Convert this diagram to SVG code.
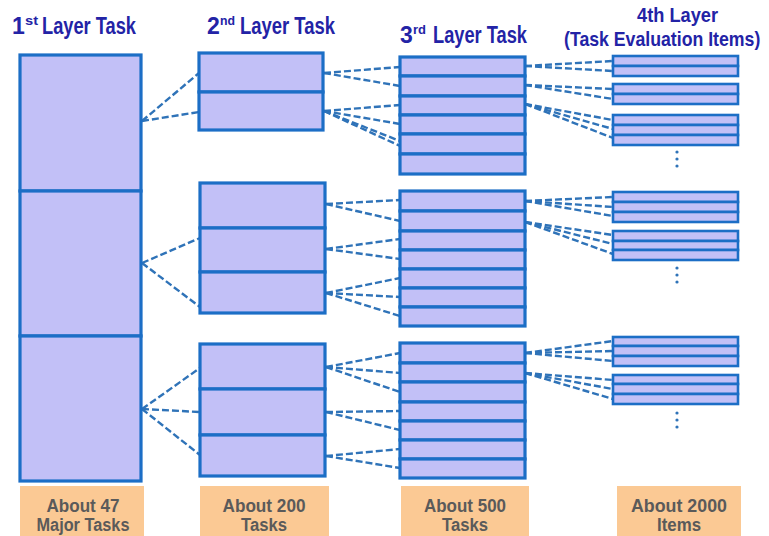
<svg xmlns="http://www.w3.org/2000/svg" width="769" height="536" viewBox="0 0 769 536">
<style>
.b{fill:#C2C0F7;stroke:#1C6EC6;stroke-width:3.2}
.s{fill:#C2C0F7;stroke:#1C6EC6;stroke-width:2.6}
.c line{stroke:#2F73B8;stroke-width:2.4;stroke-dasharray:7 3;fill:none}
.h{font-family:"Liberation Sans",Arial,sans-serif;font-weight:bold;fill:#2323A6}
.o{fill:#FBC994}
.t{font-family:"Liberation Sans",Arial,sans-serif;font-weight:bold;fill:#5A5A5A;font-size:18px;text-anchor:middle}
.d{fill:#2F73B8}
</style>
<rect width="769" height="536" fill="#ffffff"/>
<g id="headers">
<text class="h" x="12" y="34" font-size="23">1</text>
<text class="h" x="25" y="25" font-size="12" textLength="13" lengthAdjust="spacingAndGlyphs">st</text>
<text class="h" x="42" y="34" font-size="23" textLength="94" lengthAdjust="spacingAndGlyphs">Layer Task</text>
<text class="h" x="207" y="34" font-size="23">2</text>
<text class="h" x="220" y="25" font-size="12" textLength="15" lengthAdjust="spacingAndGlyphs">nd</text>
<text class="h" x="240" y="34" font-size="23" textLength="95" lengthAdjust="spacingAndGlyphs">Layer Task</text>
<text class="h" x="400" y="43" font-size="23">3</text>
<text class="h" x="413" y="34" font-size="12" textLength="13" lengthAdjust="spacingAndGlyphs">rd</text>
<text class="h" x="433" y="43" font-size="23" textLength="94" lengthAdjust="spacingAndGlyphs">Layer Task</text>
<text class="h" x="637" y="22" font-size="20" textLength="81" lengthAdjust="spacingAndGlyphs">4th Layer</text>
<text class="h" transform="translate(564,46) scale(0.885,1)" x="0" y="0" font-size="20">(Task Evaluation Items)</text>
</g>
<g id="connectors" class="c">
<line x1="142" y1="121" x2="199" y2="73"/>
<line x1="142" y1="121" x2="199" y2="112"/>
<line x1="142" y1="263" x2="200" y2="238"/>
<line x1="142" y1="263" x2="200" y2="307"/>
<line x1="142" y1="409" x2="200" y2="368"/>
<line x1="142" y1="409" x2="200" y2="412"/>
<line x1="142" y1="409" x2="200" y2="455"/>
<line x1="324" y1="73" x2="400" y2="67"/>
<line x1="324" y1="73" x2="400" y2="86"/>
<line x1="324" y1="111" x2="400" y2="105"/>
<line x1="324" y1="111" x2="400" y2="124"/>
<line x1="324" y1="111" x2="400" y2="141"/>
<line x1="324" y1="111" x2="400" y2="146"/>
<line x1="326" y1="204" x2="400" y2="200"/>
<line x1="326" y1="204" x2="400" y2="221"/>
<line x1="326" y1="249" x2="400" y2="239"/>
<line x1="326" y1="249" x2="400" y2="259"/>
<line x1="326" y1="293" x2="400" y2="278"/>
<line x1="326" y1="293" x2="400" y2="297"/>
<line x1="326" y1="293" x2="400" y2="316"/>
<line x1="326" y1="367" x2="400" y2="353"/>
<line x1="326" y1="367" x2="400" y2="373"/>
<line x1="326" y1="367" x2="400" y2="392"/>
<line x1="326" y1="412" x2="400" y2="411"/>
<line x1="326" y1="412" x2="400" y2="430"/>
<line x1="326" y1="456" x2="400" y2="449"/>
<line x1="326" y1="456" x2="400" y2="468"/>
<line x1="525" y1="66" x2="613" y2="61"/>
<line x1="525" y1="66" x2="613" y2="71"/>
<line x1="525" y1="85" x2="613" y2="89"/>
<line x1="525" y1="85" x2="613" y2="99"/>
<line x1="525" y1="104" x2="613" y2="120"/>
<line x1="525" y1="104" x2="613" y2="129"/>
<line x1="525" y1="104" x2="613" y2="138"/>
<line x1="525" y1="201" x2="613" y2="197"/>
<line x1="525" y1="201" x2="613" y2="207"/>
<line x1="525" y1="201" x2="613" y2="216"/>
<line x1="525" y1="222" x2="613" y2="235"/>
<line x1="525" y1="222" x2="613" y2="244"/>
<line x1="525" y1="222" x2="613" y2="254"/>
<line x1="525" y1="353" x2="613" y2="341"/>
<line x1="525" y1="353" x2="613" y2="351"/>
<line x1="525" y1="353" x2="613" y2="361"/>
<line x1="525" y1="373" x2="613" y2="380"/>
<line x1="525" y1="373" x2="613" y2="389"/>
<line x1="525" y1="373" x2="613" y2="399"/>
</g>
<g id="layer1">
<rect class="b" x="20" y="55" width="121" height="136"/>
<rect class="b" x="20" y="191" width="121" height="145"/>
<rect class="b" x="20" y="336" width="121" height="145"/>
</g>
<g id="layer2-g1">
<rect class="b" x="199" y="53" width="124" height="39"/>
<rect class="b" x="199" y="92" width="124" height="38"/>
</g>
<g id="layer2-g2">
<rect class="b" x="200" y="183" width="125" height="45"/>
<rect class="b" x="200" y="228" width="125" height="44"/>
<rect class="b" x="200" y="272" width="125" height="41"/>
</g>
<g id="layer2-g3">
<rect class="b" x="200" y="344" width="125" height="45"/>
<rect class="b" x="200" y="389" width="125" height="46"/>
<rect class="b" x="200" y="435" width="125" height="41"/>
</g>
<g id="layer3-g1">
<rect class="b" x="400" y="57" width="125" height="19"/>
<rect class="b" x="400" y="76" width="125" height="20"/>
<rect class="b" x="400" y="96" width="125" height="19"/>
<rect class="b" x="400" y="115" width="125" height="19"/>
<rect class="b" x="400" y="134" width="125" height="20"/>
<rect class="b" x="400" y="154" width="125" height="20"/>
</g>
<g id="layer3-g2">
<rect class="b" x="400" y="191" width="125" height="20"/>
<rect class="b" x="400" y="211" width="125" height="20"/>
<rect class="b" x="400" y="231" width="125" height="19"/>
<rect class="b" x="400" y="250" width="125" height="19"/>
<rect class="b" x="400" y="269" width="125" height="19"/>
<rect class="b" x="400" y="288" width="125" height="19"/>
<rect class="b" x="400" y="307" width="125" height="19"/>
</g>
<g id="layer3-g3">
<rect class="b" x="400" y="343" width="125" height="20"/>
<rect class="b" x="400" y="363" width="125" height="19"/>
<rect class="b" x="400" y="382" width="125" height="20"/>
<rect class="b" x="400" y="402" width="125" height="19"/>
<rect class="b" x="400" y="421" width="125" height="19"/>
<rect class="b" x="400" y="440" width="125" height="19"/>
<rect class="b" x="400" y="459" width="125" height="19"/>
</g>
<g id="layer4-g1">
<rect class="s" x="613" y="56" width="125" height="10"/>
<rect class="s" x="613" y="66" width="125" height="10"/>
<rect class="s" x="613" y="84" width="125" height="10"/>
<rect class="s" x="613" y="94" width="125" height="10"/>
<rect class="s" x="613" y="115" width="125" height="10"/>
<rect class="s" x="613" y="125" width="125" height="10"/>
<rect class="s" x="613" y="135" width="125" height="10"/>
<circle class="d" cx="677" cy="152" r="1.6"/>
<circle class="d" cx="677" cy="159" r="1.6"/>
<circle class="d" cx="677" cy="166" r="1.6"/>
</g>
<g id="layer4-g2">
<rect class="s" x="613" y="192" width="125" height="10"/>
<rect class="s" x="613" y="202" width="125" height="10"/>
<rect class="s" x="613" y="212" width="125" height="10"/>
<rect class="s" x="613" y="231" width="125" height="10"/>
<rect class="s" x="613" y="241" width="125" height="9"/>
<rect class="s" x="613" y="250" width="125" height="10"/>
<circle class="d" cx="677" cy="268" r="1.6"/>
<circle class="d" cx="677" cy="275" r="1.6"/>
<circle class="d" cx="677" cy="282" r="1.6"/>
</g>
<g id="layer4-g3">
<rect class="s" x="613" y="337" width="125" height="9"/>
<rect class="s" x="613" y="346" width="125" height="10"/>
<rect class="s" x="613" y="356" width="125" height="10"/>
<rect class="s" x="613" y="375" width="125" height="9"/>
<rect class="s" x="613" y="384" width="125" height="10"/>
<rect class="s" x="613" y="394" width="125" height="10"/>
<circle class="d" cx="677" cy="413" r="1.6"/>
<circle class="d" cx="677" cy="420" r="1.6"/>
<circle class="d" cx="677" cy="427" r="1.6"/>
</g>
<g id="label1">
<rect class="o" x="20" y="486" width="124" height="50"/>
<text class="t" x="83" y="512" textLength="73" lengthAdjust="spacingAndGlyphs">About 47</text>
<text class="t" x="83" y="531" textLength="93" lengthAdjust="spacingAndGlyphs">Major Tasks</text>
</g>
<g id="label2">
<rect class="o" x="200" y="486" width="129" height="50"/>
<text class="t" x="264" y="512" textLength="83" lengthAdjust="spacingAndGlyphs">About 200</text>
<text class="t" x="264" y="531" textLength="46" lengthAdjust="spacingAndGlyphs">Tasks</text>
</g>
<g id="label3">
<rect class="o" x="401" y="486" width="128" height="50"/>
<text class="t" x="465" y="512" textLength="82" lengthAdjust="spacingAndGlyphs">About 500</text>
<text class="t" x="465" y="531" textLength="46" lengthAdjust="spacingAndGlyphs">Tasks</text>
</g>
<g id="label4">
<rect class="o" x="617" y="486" width="124" height="50"/>
<text class="t" x="679" y="512" textLength="96" lengthAdjust="spacingAndGlyphs">About 2000</text>
<text class="t" x="679" y="531" textLength="44" lengthAdjust="spacingAndGlyphs">Items</text>
</g>
</svg>
